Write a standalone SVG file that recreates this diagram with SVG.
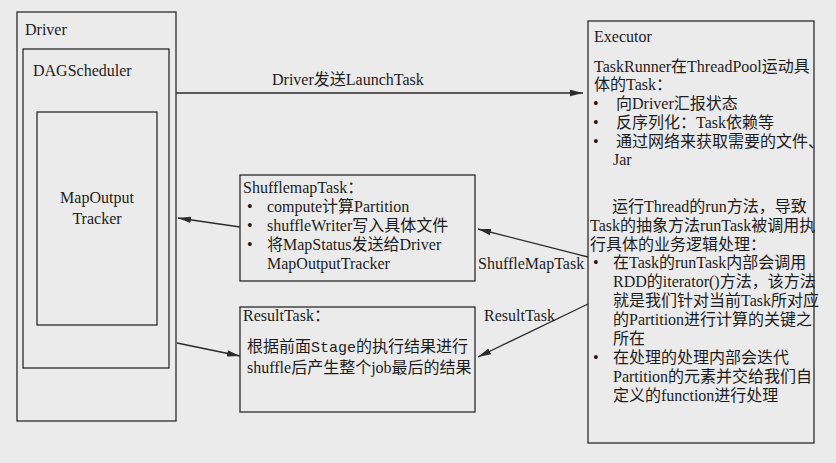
<svg xmlns="http://www.w3.org/2000/svg" width="836" height="463" viewBox="0 0 836 463">
<defs>
<style>
.bg{fill:#ebebeb}
.box{fill:none;stroke:#2b2b2b;stroke-width:1.3}
.t{font-family:"Liberation Serif","Noto Sans CJK SC",serif;font-size:16px;fill:#1c1c1c}
.mono{font-family:"Liberation Mono","Noto Sans CJK SC",monospace;font-size:15px}
.c{text-anchor:middle}
.conn line{stroke:#2b2b2b;stroke-width:1.3;fill:none}
</style>
<marker id="ah" markerUnits="userSpaceOnUse" markerWidth="14" markerHeight="8" refX="13" refY="4" orient="auto">
<path d="M0,0.8 L13,4 L0,7.2 z" fill="#2b2b2b"/>
</marker>
</defs>
<rect class="bg" x="0" y="0" width="836" height="463"/>

<g id="driver">
<rect class="box" x="17" y="12" width="159" height="409"/>
<text class="t" x="25" y="35">Driver</text>
</g>
<g id="dagscheduler">
<rect class="box" x="23" y="49" width="146" height="319"/>
<text class="t" x="33" y="76">DAGScheduler</text>
</g>
<g id="mapoutputtracker">
<rect class="box" x="37" y="112" width="120" height="213"/>
<text class="t c" x="97" y="203">MapOutput</text>
<text class="t c" x="97" y="224">Tracker</text>
</g>

<g id="shufflemaptask">
<rect class="box" x="240" y="175" width="235" height="106"/>
<text class="t" x="243" y="193">ShufflemapTask：</text>
<text class="t" x="247" y="212">•</text><text class="t" x="267" y="212">compute计算Partition</text>
<text class="t" x="247" y="231">•</text><text class="t" x="267" y="231">shuffleWriter写入具体文件</text>
<text class="t" x="247" y="250">•</text><text class="t" x="267" y="250">将MapStatus发送给Driver</text>
<text class="t" x="267" y="269">MapOutputTracker</text>
</g>

<g id="resulttask">
<rect class="box" x="240" y="307" width="235" height="105"/>
<text class="t" x="243" y="321">ResultTask：</text>
<text class="t" x="247" y="352">根据前面<tspan class="mono">Stage</tspan>的执行结果进行</text>
<text class="t" x="247" y="373">shuffle后产生整个job最后的结果</text>
</g>

<g id="executor">
<rect class="box" x="588" y="21" width="226" height="422"/>
<text class="t" x="594" y="42">Executor</text>
<text class="t" x="594" y="72">TaskRunner在ThreadPool运动具</text>
<text class="t" x="594" y="90">体的Task：</text>
<text class="t" x="593" y="109">•</text><text class="t" x="616" y="109">向Driver汇报状态</text>
<text class="t" x="593" y="128">•</text><text class="t" x="616" y="128">反序列化：Task依赖等</text>
<text class="t" x="593" y="147">•</text><text class="t" x="616" y="147">通过网络来获取需要的文件、</text>
<text class="t" x="613" y="165">Jar</text>
<text class="t" x="612" y="212">运行Thread的run方法，导致</text>
<text class="t" x="590" y="231">Task的抽象方法runTask被调用执</text>
<text class="t" x="590" y="250">行具体的业务逻辑处理：</text>
<text class="t" x="593" y="268">•</text><text class="t" x="613" y="268">在Task的runTask内部会调用</text>
<text class="t" x="613" y="287">RDD的iterator()方法，该方法</text>
<text class="t" x="613" y="306">就是我们针对当前Task所对应</text>
<text class="t" x="613" y="325">的Partition进行计算的关键之</text>
<text class="t" x="613" y="344">所在</text>
<text class="t" x="593" y="363">•</text><text class="t" x="613" y="363">在处理的处理内部会迭代</text>
<text class="t" x="613" y="382">Partition的元素并交给我们自</text>
<text class="t" x="613" y="401">定义的function进行处理</text>
</g>

<g id="connectors" class="conn">
<line x1="176" y1="93" x2="583" y2="93" marker-end="url(#ah)"/>
<line x1="588" y1="257" x2="478" y2="229" marker-end="url(#ah)"/>
<line x1="588" y1="304" x2="478" y2="357" marker-end="url(#ah)"/>
<line x1="240" y1="227" x2="178" y2="218" marker-end="url(#ah)"/>
<line x1="177" y1="343" x2="240" y2="356" marker-end="url(#ah)"/>
<text class="t" x="272" y="85">Driver发送LaunchTask</text>
<text class="t" x="478" y="269">ShuffleMapTask</text>
<text class="t" x="484" y="321">ResultTask</text>
</g>
</svg>
